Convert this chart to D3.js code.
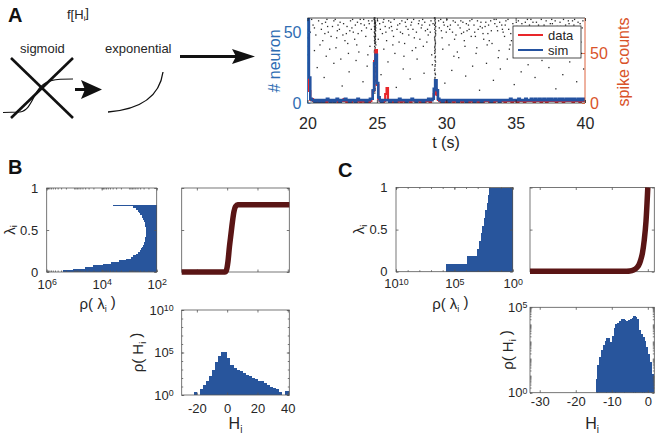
<!DOCTYPE html>
<html><head><meta charset="utf-8">
<script src="https://cdn.jsdelivr.net/npm/d3@7/dist/d3.min.js"></script>
<style>body{margin:0;background:#fff}svg{display:block}text{font-family:"Liberation Sans",Arial,Helvetica,sans-serif}</style>
</head><body><svg id="fig" width="660" height="440"></svg>
<script>
// ---------------- DATA ----------------
// Panel A: population activity, 0.1 s bins from t = 20 s
const timeStart = 20, timeStep = 0.1;
const timeTicks = [20, 25, 30, 35, 40];
const neuronTicks = [0, 50];
const spikeCountTicks = [0, 50];
const simNeurons = [
 60,18,3,2,2,1,2,2,1,2, 2,1,2,2,3,2,1,2,2,1, 2,3,2,1,2,2,2,3,2,2, 1,2,2,2,1,2,3,2,2,2,
 2,2,1,2,2,3,3,9,28,34, 14,4,2,1,2,2,2,2,2,1, 2,2,2,1,2,2,3,2,2,2, 2,1,2,2,2,3,2,2,1,2,
 2,2,2,1,2,2,2,3,2,2, 3,10,16,9,3,2,2,1,2,2, 2,2,1,2,2,2,2,2,1,2, 2,2,2,2,1,2,2,2,2,2,
 1,2,2,2,2,1,2,2,2,2, 2,2,1,2,2,2,2,2,1,2, 2,2,2,2,2,2,3,2,2,2, 2,2,3,2,2,2,2,3,2,2,
 2,3,2,2,3,2,2,3,2,2, 3,2,2,3,2,3,2,2,3,2, 2,3,2,3,2,2,3,2,3,2, 3,2,3,2,2,3,2,3,2,3, 2];
const dataSpikeCounts = [
 40,12,3,4,2,2,1,2,2,1, 1,2,2,1,2,2,1,2,2,1, 2,2,1,2,3,2,4,2,1,2, 2,1,2,2,2,1,2,2,1,2,
 2,1,2,2,1,2,4,12,42,53, 18,4,2,2,1,2,9,15,3,2, 2,1,2,2,1,2,2,1,2,2, 1,2,2,2,1,3,3,2,1,2,
 2,1,2,2,1,2,2,2,1,3, 4,9,14,8,3,2,1,2,2,1, 2,1,2,2,2,1,2,2,1,2, 2,1,2,2,3,2,1,2,2,1,
 1,2,2,1,2,2,1,2,2,2, 2,1,2,2,1,2,2,2,1,2, 2,2,1,2,2,2,2,1,2,2, 2,1,2,2,2,2,1,2,2,2,
 2,2,2,1,2,2,2,2,1,2, 2,2,1,2,2,2,2,2,2,1, 2,2,2,2,1,2,2,2,2,2, 2,1,2,2,2,2,1,2,2,2, 2];
// raster spikes [time (s), neuron index]
const rasterSpikes = [
 [20.4,55],[20.6,48],[20.8,58],[21.0,52],[21.1,44],[21.3,57],[21.5,50],[21.6,38],[21.8,54],[22.0,59],[22.1,46],[22.3,52],[22.4,31],[22.6,56],[22.8,49],[22.9,42],[23.1,58],[23.2,53],[23.4,45],[23.6,57],[23.7,36],[23.9,51],[24.1,55],[24.2,47],[24.4,58],[24.5,40],
 [25.2,56],[25.4,49],[25.5,59],[25.7,44],[25.9,53],[26.0,57],[26.2,47],[26.3,35],[26.5,55],[26.7,50],[26.8,58],[27.0,42],[27.1,54],[27.3,48],[27.5,57],[27.6,52],[27.8,39],[28.0,56],[28.1,45],[28.3,59],[28.5,51],[28.6,43],[28.8,55],[28.9,58],
 [29.5,53],[29.7,46],[29.8,57],[30.0,50],[30.2,41],[30.3,55],[30.5,58],[30.7,48],[30.8,36],[31.0,53],[31.2,57],[31.3,44],[31.5,51],[31.7,58],[31.8,47],[32.0,55],[32.2,39],[32.3,52],[32.5,57],[32.7,45],[32.8,54],[33.0,49],[33.2,58],[33.3,42],[33.5,56],[33.7,51],[33.8,37],
 [34.0,55],[34.2,47],[34.3,58],[34.5,52],[34.7,44],[34.8,56],[35.0,49],[35.2,58],[35.3,40],[35.5,53],[35.7,57],[35.8,46],[36.0,55],[36.2,50],[36.3,34],[36.5,57],[36.7,48],[36.8,53],[37.0,43],[37.2,58],[37.3,51],[37.5,56],[37.7,45],[37.8,38],
 [38.0,54],[38.2,57],[38.3,49],[38.5,52],[38.7,41],[38.8,58],[39.0,46],[39.2,55],[39.3,50],[39.5,57],[39.7,43],[39.8,53],
 [20.7,25],[21.2,18],[21.9,28],[22.5,12],[23.0,22],[23.5,30],[24.0,15],[24.3,26],[25.3,20],[25.8,29],[26.4,11],[26.9,24],[27.4,17],[27.9,31],[28.4,21],[29.0,27],[29.9,14],[30.4,23],[30.9,32],[31.4,19],[31.9,26],[32.4,9],[32.9,28],[33.4,16],[33.9,24],[34.4,31],[34.9,13],[35.4,22],[35.9,27],[36.4,18],[36.9,30],[37.4,25],[37.9,10],[38.4,20],[38.9,29],[39.4,15],[39.9,24],
 [20.2,50],[20.9,41],[21.4,59],[21.7,47],[22.2,55],[22.7,44],[23.3,50],[23.8,59],[24.6,52],[25.1,45],[25.6,54],[26.1,51],[26.6,43],[27.2,59],[27.7,46],[28.2,53],[28.7,48],[29.6,59],[30.1,54],[30.6,45],[31.1,49],[31.6,55],[32.1,47],[32.6,53],[33.1,44],[33.6,59],[34.1,50],[34.6,41],[35.1,54],[35.6,48],[36.1,59],[36.6,43],[37.1,52],[37.6,59],[38.1,46],[38.6,55],[39.1,58],[39.6,48],
 [20.3,59],[20.5,53],[21.05,56],[21.25,49],[21.45,54],[21.9,58],[22.15,51],[22.35,57],[22.55,48],[22.85,54],[23.05,51],[23.25,59],[23.45,55],[23.65,49],[23.85,56],[24.05,59],[24.25,53],[24.45,56],[24.65,58],[25.05,58],[25.25,52],[25.45,57],[25.65,50],[25.85,58],[26.05,54],[26.25,59],[26.45,52],[26.65,56],[26.85,49],[27.05,57],[27.25,52],[27.45,55],[27.65,59],[27.85,50],[28.05,58],[28.25,55],[28.45,57],[28.65,52],[28.85,50],[29.05,56],[29.45,58],[29.65,51],[29.85,55],[30.05,59],[30.25,52],[30.45,50],[30.65,57],[30.85,55],[31.05,58],[31.25,50],[31.45,56],[31.65,52],[31.85,59],[32.05,50],[32.25,58],[32.45,54],[32.65,49],[32.85,57],[33.05,55],[33.25,51],[33.45,59],[33.65,54],[33.85,57],[34.05,52],[34.25,55],[34.45,59],[34.65,49],[34.85,53],[35.05,57],[35.25,51],[35.45,56],[35.65,52],[35.85,59],[36.05,53],[36.25,57],[36.45,51],[36.65,55],[36.85,59],[37.05,55],[37.25,49],[37.45,53],[37.65,56],[37.85,58],[38.05,51],[38.25,54],[38.45,59],[38.65,50],[38.85,56],[39.05,53],[39.25,59],[39.45,52],[39.65,56],[39.85,58],
 [20.5,37],[21.35,33],[22.05,39],[22.95,35],[23.55,41],[24.35,34],[25.5,38],[26.15,41],[26.95,33],[27.55,37],[28.35,40],[28.95,34],[29.75,38],[30.55,33],[31.35,40],[32.15,35],[32.95,41],[33.75,32],[34.55,38],[35.35,34],[36.15,39],[36.95,36],[37.55,41],[38.35,33],[39.15,38],[39.75,35],
 [24.80,59],[24.83,58],[24.86,57],[24.89,56],[24.92,55],[24.82,54],[24.85,53],[24.88,52],[24.91,51],[24.84,50],[24.87,49],[24.90,48],[24.81,47],[24.86,46],[24.89,45],[24.83,44],[24.85,43],[24.88,42],[24.93,41],[24.84,40],[24.87,38],[24.82,36],[24.86,34],[24.90,32],[24.85,30],[24.88,28],[24.83,26],[24.87,24],[24.91,22],[24.84,20],[24.86,18],[24.89,16],[24.82,14],[24.85,12],[24.88,10],[24.86,60],[24.84,57],[24.87,53],[24.90,47],[24.85,44],
 [24.81,60],[24.84,59],[24.87,58],[24.90,57],[24.83,56],[24.86,55],[24.89,54],[24.92,53],[24.85,52],[24.88,51],[24.82,50],[24.86,49],[24.89,48],[24.84,46],[24.87,45],[24.91,43],[24.85,42],[24.88,39],[24.83,37],[24.86,35],[24.89,33],[24.84,31],[24.87,29],[24.85,27],[24.88,25],[24.86,23],[24.84,21],[24.87,19],[24.85,17],[24.88,15],[24.86,13],[24.84,11],[24.87,9],[24.85,7],
 [29.15,60],[29.18,58],[29.21,56],[29.24,54],[29.17,52],[29.20,50],[29.23,48],[29.16,46],[29.19,44],[29.22,42],[29.18,40],[29.21,38],[29.17,35],[29.20,32],[29.23,29],[29.19,26],[29.16,23],[29.22,20],[29.18,17],[29.21,14],[29.20,59],[29.17,55],[29.24,51],[29.19,47],[29.22,43],[29.18,37],
 [29.19,60],[29.22,57],[29.16,55],[29.20,53],[29.23,49],[29.18,45],[29.21,41],[29.17,39],[29.20,36],[29.22,33],[29.19,30],[29.21,27],[29.18,24],[29.20,21],[29.19,18],[29.21,15],[29.20,12],
 [20.02,58],[20.05,52],[20.03,46],[20.06,40],[20.04,34]];

// Panel B: sigmoid model
const lambdaBinWidthB = 0.02;           // bins from lambda = 0
const lambdaLog10DensityB = [5.4,5.05,4.6,4.3,3.95,3.65,3.38,3.12,2.95,2.85,2.75,2.67,2.62,2.57,2.53,2.50,2.48,2.46,2.44,2.42,
                             2.41,2.40,2.39,2.39,2.38,2.39,2.40,2.41,2.42,2.43,2.46,2.49,2.52,2.55,2.59,2.63,2.68,2.76,2.88,3.59];
const sigmoidCurveB = [[-30,0],[-1.5,0],[-0.5,0.02],[0.5,0.12],[1.5,0.3],[2.5,0.45],[3.5,0.6],[4.5,0.72],[5.5,0.78],[7,0.8],[41,0.8]];
const hBinStartB = -22, hBinWidthB = 2;
const hLog10DensityB = [0.4,0,0.75,1.2,1.7,2.2,3.0,3.9,4.6,5.1,5.1,4.3,3.5,3.15,2.95,2.8,2.6,2.4,2.25,2.0,1.85,1.7,1.6,1.4,1.2,1.0,0.85,0.65,0.4,0,0.5,0.5];

// Panel C: exponential model
const lambdaBinWidthC = 1/11;
const lambdaLog10DensityC = [5.69,3.91,3.10,2.88,2.71,2.59,2.47,2.36,2.24,2.10,2.02];
const expCurveC = [[-32.7,0.004],[-8,0.004],[-6,0.006],[-5,0.009],[-4,0.02],[-3,0.05],[-2.5,0.08],[-2,0.135],[-1.5,0.22],[-1,0.37],[-0.5,0.6],[0,1]];
const hBinStartC = -14.5, hBinWidthC = 0.5;
const hLog10DensityC = [0.8,1.6,2.1,2.5,2.8,3.0,3.2,3.2,2.95,3.3,3.8,4.0,4.1,4.2,4.3,4.32,4.25,4.22,4.28,4.3,4.38,4.48,4.45,4.3,3.7,3.45,3.25,3.0,2.7,2.25,1.8,1.1];

// ---------------- STYLE ----------------
const TXT = '#262626', BOX = '#555', BAR = '#28559c', CURVE = '#5a1515';
const LBLUE = '#2f6db3', RRED = '#d9532a', DATARED = '#e8262a', SIMBLUE = '#2452a0';
const TICKFS = 13;
const svg = d3.select('#fig');
svg.append('rect').attr('width',660).attr('height',440).attr('fill','#fff');

function drawBox(g,b){g.append('rect').attr('x',b.x0).attr('y',b.y0).attr('width',b.x1-b.x0).attr('height',b.y1-b.y0).attr('fill','none').attr('stroke',BOX).attr('stroke-width',0.8);}
function ticks(g,b,scale,values,side,len,color){
  let axis,tx;
  if(side==='bottom'){axis=d3.axisBottom(scale);tx=`translate(0,${b.y1})`;}
  if(side==='top'){axis=d3.axisTop(scale);tx=`translate(0,${b.y0})`;}
  if(side==='left'){axis=d3.axisLeft(scale);tx=`translate(${b.x0},0)`;}
  if(side==='right'){axis=d3.axisRight(scale);tx=`translate(${b.x1},0)`;}
  axis.tickValues(values).tickSize(-len).tickFormat(()=>'');
  const a=g.append('g').attr('transform',tx).call(axis);
  a.select('.domain').remove(); a.selectAll('text').remove();
  a.selectAll('line').attr('stroke',color||BOX).attr('stroke-width',0.8);
}
function labels(g,b,scale,values,side,pad,size,color,fmt){
  let axis,tx;
  if(side==='bottom'){axis=d3.axisBottom(scale);tx=`translate(0,${b.y1})`;}
  if(side==='left'){axis=d3.axisLeft(scale);tx=`translate(${b.x0},0)`;}
  if(side==='right'){axis=d3.axisRight(scale);tx=`translate(${b.x1},0)`;}
  axis.tickValues(values).tickSize(0).tickPadding(pad).tickFormat(()=>'');
  const a=g.append('g').attr('transform',tx).call(axis);
  a.attr('font-family',null).attr('font-size',null);
  a.select('.domain').remove(); a.selectAll('line').remove();
  a.selectAll('text').attr('font-size',size).attr('fill',color||TXT).each(function(d){fmt(d3.select(this),d,size);});
}
const plain=(s,d)=>s.text(String(d));
const pow10=(s,d,size)=>{s.text('10');s.append('tspan').attr('dy','-0.4em').attr('font-size',size*0.68).text(Math.round(Math.log10(d)));};
function logMinor(lo,hi){const out=[];for(let e=lo;e<hi;e++)for(let k=1;k<10;k++)out.push(k*Math.pow(10,e));out.push(Math.pow(10,hi));return out;}
function decades(lo,hi){const out=[];for(let e=lo;e<=hi;e++)out.push(Math.pow(10,e));return out;}
function rotLabel(x,y,parts,size,color){
  const t=svg.append('text').attr('transform',`translate(${x},${y}) rotate(-90)`).attr('text-anchor','middle').attr('font-size',size).attr('fill',color||TXT);
  parts(t); return t;
}
function sub(t,main,s,after,size){t.append('tspan').text(main);t.append('tspan').attr('font-size',size*0.6).attr('dy','0.3em').text(s);if(after)t.append('tspan').attr('dy','-0.3em').text(after);}

// ---------------- PANEL A ----------------
svg.append('text').attr('x',8).attr('y',22).attr('font-size',20).attr('font-weight','bold').attr('fill','#111').text('A');
{const t=svg.append('text').attr('x',67).attr('y',19).attr('font-size',13).attr('fill',TXT);sub(t,'f[H','i',']',13);}
svg.append('text').attr('x',20).attr('y',53).attr('font-size',13).attr('fill',TXT).text('sigmoid');
svg.append('text').attr('x',105).attr('y',53).attr('font-size',13).attr('fill',TXT).text('exponential');
const ic=svg.append('g').attr('fill','none').attr('stroke','#111');
ic.append('line').attr('x1',11).attr('y1',58).attr('x2',73).attr('y2',118).attr('stroke-width',2.6);
ic.append('line').attr('x1',11).attr('y1',118).attr('x2',73).attr('y2',58).attr('stroke-width',2.6);
ic.append('path').attr('d','M3,112.5 L20,112 C31,110 33,95 40,87.5 C47,80 54,79 73,79').attr('stroke-width',1.2);
ic.append('path').attr('d','M108,112 Q158,108 163,72').attr('stroke-width',1.3);
ic.append('line').attr('x1',75).attr('y1',89.5).attr('x2',86).attr('y2',89.5).attr('stroke-width',3);
svg.append('path').attr('d','M81,80 L102,89.5 L81,99 L85,89.5 Z').attr('fill','#111');
ic.append('line').attr('x1',180).attr('y1',56.5).attr('x2',238).attr('y2',56.5).attr('stroke-width',3);
svg.append('path').attr('d','M232,49 L255,56.5 L232,64 L236,56.5 Z').attr('fill','#111');

const aB={x0:307.5,x1:585,y0:18,y1:103};
const xA=d3.scaleLinear().domain([20,40]).range([aB.x0,aB.x1]);
const yAL=d3.scaleLinear().domain([0,60]).range([aB.y1,aB.y0]);
const yAR=d3.scaleLinear().domain([0,85]).range([aB.y1,aB.y0]);
svg.append('clipPath').attr('id','clipA').append('rect').attr('x',aB.x0).attr('y',aB.y0).attr('width',aB.x1-aB.x0).attr('height',aB.y1-aB.y0);
const gA=svg.append('g');
gA.append('g').selectAll('rect').data(rasterSpikes).join('rect')
  .attr('x',d=>xA(d[0])-0.65).attr('y',d=>yAL(d[1])-0.65).attr('width',1.3).attr('height',1.3).attr('fill','#2a2a2a');
const lineT=(i)=>timeStart+i*timeStep;
gA.append('path').datum(dataSpikeCounts).attr('clip-path','url(#clipA)').attr('fill','none').attr('stroke',DATARED).attr('stroke-width',2.2)
  .attr('d',d3.line().x((d,i)=>xA(lineT(i))).y(d=>yAR(d)).curve(d3.curveStepAfter));
gA.append('path').datum(simNeurons).attr('clip-path','url(#clipA)').attr('fill','none').attr('stroke',SIMBLUE).attr('stroke-width',2.6)
  .attr('d',d3.line().x((d,i)=>xA(lineT(i))).y(d=>yAL(d)).curve(d3.curveStepAfter));
// box
gA.append('line').attr('x1',aB.x0).attr('x2',aB.x1).attr('y1',aB.y0).attr('y2',aB.y0).attr('stroke','#222').attr('stroke-width',0.8);
gA.append('line').attr('x1',aB.x0).attr('x2',aB.x1).attr('y1',aB.y1).attr('y2',aB.y1).attr('stroke','#222').attr('stroke-width',0.8);
gA.append('line').attr('x1',aB.x0).attr('x2',aB.x0).attr('y1',aB.y0).attr('y2',aB.y1).attr('stroke',LBLUE).attr('stroke-width',0.9);
gA.append('line').attr('x1',aB.x1).attr('x2',aB.x1).attr('y1',aB.y0).attr('y2',aB.y1).attr('stroke',RRED).attr('stroke-width',0.9);
ticks(gA,aB,xA,timeTicks,'bottom',3,'#222');ticks(gA,aB,xA,timeTicks,'top',3,'#222');
ticks(gA,aB,yAL,neuronTicks,'left',3,LBLUE);ticks(gA,aB,yAR,spikeCountTicks,'right',3,RRED);
labels(gA,aB,xA,timeTicks,'bottom',14.6,16,TXT,plain);
labels(gA,aB,yAL,neuronTicks,'left',6,16,LBLUE,plain);
labels(gA,aB,yAR,spikeCountTicks,'right',5,16,RRED,plain);
svg.append('text').attr('x',446).attr('y',148).attr('text-anchor','middle').attr('font-size',16).attr('fill',TXT).text('t (s)');
rotLabel(280,61,t=>t.text('# neuron'),16,LBLUE);
rotLabel(629,62,t=>t.text('spike counts'),16,RRED);
// legend
const lg=svg.append('g');
lg.append('rect').attr('x',513).attr('y',26).attr('width',68).attr('height',32).attr('fill','#fff').attr('stroke','#222').attr('stroke-width',0.8);
lg.append('line').attr('x1',518).attr('x2',543).attr('y1',35).attr('y2',35).attr('stroke',DATARED).attr('stroke-width',2);
lg.append('line').attr('x1',518).attr('x2',543).attr('y1',50).attr('y2',50).attr('stroke',SIMBLUE).attr('stroke-width',2);
lg.append('text').attr('x',548).attr('y',39.5).attr('font-size',13).attr('fill',TXT).text('data');
lg.append('text').attr('x',548).attr('y',54.5).attr('font-size',13).attr('fill',TXT).text('sim');

// ---------------- helpers for B/C ----------------
function lambdaHist(b,dom,logVals,binW,majors,minors){
  const g=svg.append('g');
  const x=d3.scaleLog().domain(dom).range([b.x0,b.x1]);
  const y=d3.scaleLinear().domain([0,1]).range([b.y1,b.y0]);
  g.selectAll('rect.bar').data(logVals).join('rect').attr('class','bar')
    .attr('x',d=>x(Math.pow(10,d))).attr('width',d=>b.x1-x(Math.pow(10,d)))
    .attr('y',(d,i)=>y((i+1)*binW)).attr('height',(d,i)=>y(i*binW)-y((i+1)*binW)).attr('fill',BAR).attr('shape-rendering','crispEdges');
  drawBox(g,b);
  ticks(g,b,x,minors,'bottom',1.5);ticks(g,b,x,minors,'top',1.5);
  ticks(g,b,x,majors,'bottom',2.5);ticks(g,b,x,majors,'top',2.5);
  ticks(g,b,y,[0,0.5,1],'left',2.5);ticks(g,b,y,[0,0.5,1],'right',2.5);
  labels(g,b,x,majors,'bottom',7.5,TICKFS,TXT,pow10);
  labels(g,b,y,[0,0.5,1],'left',8.5,TICKFS,TXT,plain);
  svg.append('text').attr('x',(b.x0+b.x1)/2-4).attr('y',309).attr('text-anchor','middle').attr('font-size',15).attr('fill',TXT)
    .call(t=>{t.append('tspan').text('\u03C1( \u03BB');t.append('tspan').attr('font-size',9).attr('dy','0.3em').text('i');t.append('tspan').attr('dy','-0.3em').text(' )');});
  rotLabel(b.x0-32,(b.y0+b.y1)/2,t=>{t.append('tspan').text('\u03BB');t.append('tspan').attr('font-size',9).attr('dy','0.3em').text('i');},15);
}
function curvePanel(b,xdom,pts,xt){
  const g=svg.append('g');
  const x=d3.scaleLinear().domain(xdom).range([b.x0,b.x1]);
  const y=d3.scaleLinear().domain([0,1]).range([b.y1,b.y0]);
  drawBox(g,b);
  ticks(g,b,x,xt,'bottom',2.5);ticks(g,b,x,xt,'top',2.5);
  ticks(g,b,y,[0,0.5,1],'left',2.5);ticks(g,b,y,[0,0.5,1],'right',2.5);
  g.append('path').datum(pts).attr('fill','none').attr('stroke',CURVE).attr('stroke-width',5.5).attr('stroke-linejoin','round')
    .attr('d',d3.line().x(d=>x(d[0])).y(d=>y(d[1])).curve(d3.curveMonotoneX));
}
function hHist(b,xdom,ymax,start,w,logVals,xt,ymaj,yminor,pad,ylabX){
  const g=svg.append('g');
  const x=d3.scaleLinear().domain(xdom).range([b.x0,b.x1]);
  const y=d3.scaleLog().domain([1,ymax]).range([b.y1,b.y0]);
  const id='clip'+Math.round(b.x0);
  svg.append('clipPath').attr('id',id).append('rect').attr('x',b.x0).attr('y',b.y0).attr('width',b.x1-b.x0).attr('height',b.y1-b.y0);
  g.append('g').attr('clip-path',`url(#${id})`).selectAll('rect').data(logVals).join('rect')
    .attr('x',(d,i)=>x(start+i*w)).attr('width',(d,i)=>x(start+(i+1)*w)-x(start+i*w)+0.3)
    .attr('y',d=>y(Math.pow(10,d))).attr('height',d=>b.y1-y(Math.pow(10,d))).attr('fill',BAR).attr('shape-rendering','crispEdges');
  drawBox(g,b);
  ticks(g,b,x,xt,'bottom',2.5);ticks(g,b,x,xt,'top',2.5);
  ticks(g,b,y,yminor,'left',1.5);ticks(g,b,y,yminor,'right',1.5);
  ticks(g,b,y,ymaj,'left',2.5);ticks(g,b,y,ymaj,'right',2.5);
  labels(g,b,x,xt,'bottom',pad,TICKFS,TXT,plain);
  labels(g,b,y,ymaj,'left',b.ylpad,TICKFS,TXT,pow10);
  svg.append('text').attr('x',(b.x0+b.x1)/2).attr('y',429).attr('text-anchor','middle').attr('font-size',16).attr('fill',TXT)
    .call(t=>{t.append('tspan').text('H');t.append('tspan').attr('font-size',10).attr('dy','0.35em').text('i');});
  rotLabel(ylabX,(b.y0+b.y1)/2,t=>{t.append('tspan').text('\u03C1( H');t.append('tspan').attr('font-size',9).attr('dy','0.3em').text('i');t.append('tspan').attr('dy','-0.3em').text(' )');},15);
}

// ---------------- PANEL B ----------------
svg.append('text').attr('x',8).attr('y',174).attr('font-size',20).attr('font-weight','bold').attr('fill','#111').text('B');
lambdaHist({x0:46.7,x1:156.7,y0:188,y1:272},[1e6,1e2],lambdaLog10DensityB,lambdaBinWidthB,[1e6,1e4,1e2],logMinor(2,6));
curvePanel({x0:181.7,x1:289.3,y0:188,y1:272},[-30,41],sigmoidCurveB,[-20,0,20,40]);
hHist({x0:181.7,x1:289.3,y0:310,y1:395,ylpad:8},[-30,41],1e10,hBinStartB,hBinWidthB,hLog10DensityB,[-20,0,20,40],[1,1e5,1e10],decades(0,10),9,143);

// ---------------- PANEL C ----------------
svg.append('text').attr('x',338).attr('y',177).attr('font-size',20).attr('font-weight','bold').attr('fill','#111').text('C');
lambdaHist({x0:396,x1:512.7,y0:187.5,y1:271.7},[1e10,1],lambdaLog10DensityC,lambdaBinWidthC,[1e10,1e5,1],decades(0,10));
curvePanel({x0:530,x1:654.3,y0:187.5,y1:271.7},[-32.7,1.8],expCurveC,[-30,-20,-10,0]);
hHist({x0:530,x1:654.3,y0:307.3,y1:392.7,ylpad:2.5},[-32.7,1.8],1e5,hBinStartC,hBinWidthC,hLog10DensityC,[-30,-20,-10,0],[1,1e5],logMinor(0,5),4,513);
</script></body></html>
